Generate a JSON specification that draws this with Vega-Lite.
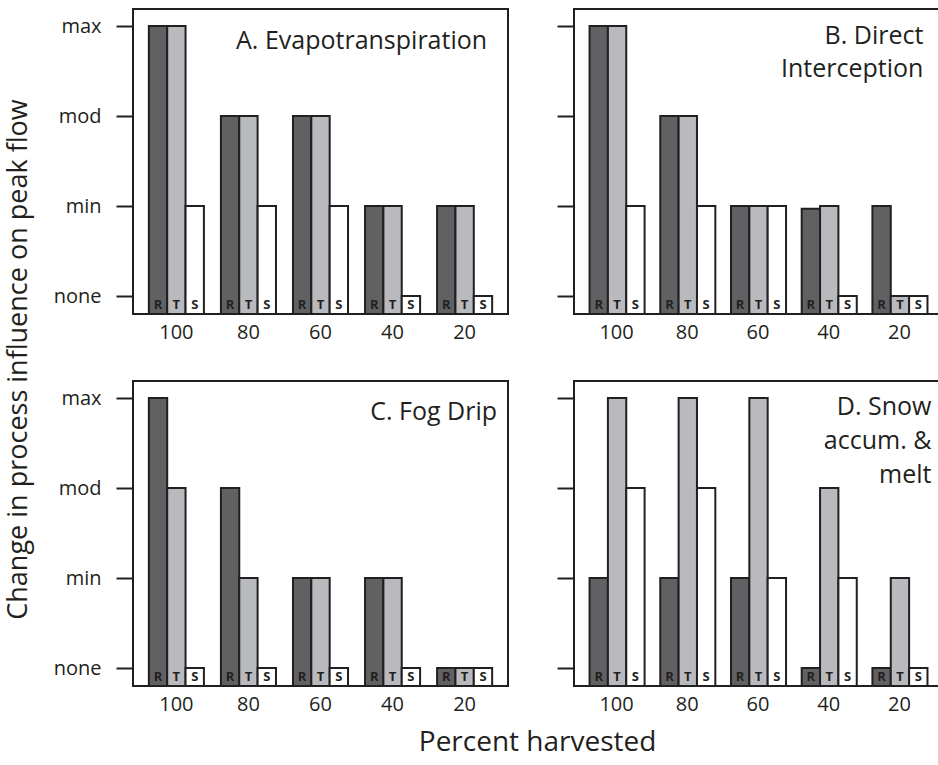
{
  "$schema": "https://vega.github.io/schema/vega-lite/v6.json",
  "padding": {"left": 5, "top": 8, "right": 0, "bottom": 0},
  "background": "white",
  "config": {
    "font": "Open Sans",
    "view": {"stroke": "#231f20", "strokeWidth": 2},
    "axis": {"labelColor": "#231f20", "labelFont": "Open Sans", "grid": false},
    "title": {"color": "#231f20", "fontWeight": "normal", "font": "Open Sans"}
  },
  "datasets": {
    "d": [
      {"panel": "A", "pct": 100, "series": "R", "level": 3},
      {"panel": "A", "pct": 100, "series": "T", "level": 3},
      {"panel": "A", "pct": 100, "series": "S", "level": 1},
      {"panel": "A", "pct": 80, "series": "R", "level": 2},
      {"panel": "A", "pct": 80, "series": "T", "level": 2},
      {"panel": "A", "pct": 80, "series": "S", "level": 1},
      {"panel": "A", "pct": 60, "series": "R", "level": 2},
      {"panel": "A", "pct": 60, "series": "T", "level": 2},
      {"panel": "A", "pct": 60, "series": "S", "level": 1},
      {"panel": "A", "pct": 40, "series": "R", "level": 1},
      {"panel": "A", "pct": 40, "series": "T", "level": 1},
      {"panel": "A", "pct": 40, "series": "S", "level": 0},
      {"panel": "A", "pct": 20, "series": "R", "level": 1},
      {"panel": "A", "pct": 20, "series": "T", "level": 1},
      {"panel": "A", "pct": 20, "series": "S", "level": 0},
      {"panel": "B", "pct": 100, "series": "R", "level": 3},
      {"panel": "B", "pct": 100, "series": "T", "level": 3},
      {"panel": "B", "pct": 100, "series": "S", "level": 1},
      {"panel": "B", "pct": 80, "series": "R", "level": 2},
      {"panel": "B", "pct": 80, "series": "T", "level": 2},
      {"panel": "B", "pct": 80, "series": "S", "level": 1},
      {"panel": "B", "pct": 60, "series": "R", "level": 1},
      {"panel": "B", "pct": 60, "series": "T", "level": 1},
      {"panel": "B", "pct": 60, "series": "S", "level": 1},
      {"panel": "B", "pct": 40, "series": "R", "level": 0.97},
      {"panel": "B", "pct": 40, "series": "T", "level": 1},
      {"panel": "B", "pct": 40, "series": "S", "level": 0},
      {"panel": "B", "pct": 20, "series": "R", "level": 1},
      {"panel": "B", "pct": 20, "series": "T", "level": 0},
      {"panel": "B", "pct": 20, "series": "S", "level": 0},
      {"panel": "C", "pct": 100, "series": "R", "level": 3},
      {"panel": "C", "pct": 100, "series": "T", "level": 2},
      {"panel": "C", "pct": 100, "series": "S", "level": 0},
      {"panel": "C", "pct": 80, "series": "R", "level": 2},
      {"panel": "C", "pct": 80, "series": "T", "level": 1},
      {"panel": "C", "pct": 80, "series": "S", "level": 0},
      {"panel": "C", "pct": 60, "series": "R", "level": 1},
      {"panel": "C", "pct": 60, "series": "T", "level": 1},
      {"panel": "C", "pct": 60, "series": "S", "level": 0},
      {"panel": "C", "pct": 40, "series": "R", "level": 1},
      {"panel": "C", "pct": 40, "series": "T", "level": 1},
      {"panel": "C", "pct": 40, "series": "S", "level": 0},
      {"panel": "C", "pct": 20, "series": "R", "level": 0},
      {"panel": "C", "pct": 20, "series": "T", "level": 0},
      {"panel": "C", "pct": 20, "series": "S", "level": 0},
      {"panel": "D", "pct": 100, "series": "R", "level": 1},
      {"panel": "D", "pct": 100, "series": "T", "level": 3},
      {"panel": "D", "pct": 100, "series": "S", "level": 2},
      {"panel": "D", "pct": 80, "series": "R", "level": 1},
      {"panel": "D", "pct": 80, "series": "T", "level": 3},
      {"panel": "D", "pct": 80, "series": "S", "level": 2},
      {"panel": "D", "pct": 60, "series": "R", "level": 1},
      {"panel": "D", "pct": 60, "series": "T", "level": 3},
      {"panel": "D", "pct": 60, "series": "S", "level": 1},
      {"panel": "D", "pct": 40, "series": "R", "level": 0},
      {"panel": "D", "pct": 40, "series": "T", "level": 2},
      {"panel": "D", "pct": 40, "series": "S", "level": 1},
      {"panel": "D", "pct": 20, "series": "R", "level": 0},
      {"panel": "D", "pct": 20, "series": "T", "level": 1},
      {"panel": "D", "pct": 20, "series": "S", "level": 0}
    ]
  },
  "title": {"text": "Change in process influence on peak flow", "orient": "left", "anchor": "middle", "fontSize": 27, "offset": 19, "dx": 23},
  "vconcat": [
    {
      "title": {"text": "Percent harvested", "orient": "bottom", "anchor": "middle", "fontSize": 28, "offset": 14, "dx": 40},
      "spacing": 37,
      "vconcat": [
        {
          "spacing": 46,
          "hconcat": [
            {
              "width": 375, "height": 305,
              "data": {"name": "d"},
              "transform": [{"filter": "datum.panel === 'A'"}],
              "encoding": {
                "x": {"field": "pct", "type": "ordinal", "sort": "descending", "scale": {"paddingInner": 0.236, "paddingOuter": 0.22}, "axis": {"title": null, "ticks": false, "domain": false, "labelAngle": 0, "labelFontSize": 20, "labelPadding": 8}},
                "xOffset": {"field": "series", "type": "nominal", "sort": ["R", "T", "S"], "scale": {"paddingInner": 0, "paddingOuter": 0}}
              },
              "layer": [
                {
                  "mark": {"type": "bar", "stroke": "#231f20", "strokeWidth": 2},
                  "encoding": {
                    "y": {"field": "level", "type": "quantitative", "scale": {"domain": [-0.2, 3.19], "nice": false, "zero": false}, "axis": {"title": null, "values": [0, 1, 2, 3], "labelExpr": "['none','min','mod','max'][datum.value]", "domain": false, "tickSize": 17, "tickWidth": 2, "tickColor": "#231f20", "labelFontSize": 20, "labelPadding": 15}},
                    "y2": {"datum": -0.2},
                    "fill": {"field": "series", "type": "nominal", "scale": {"domain": ["R", "T", "S"], "range": ["#616163", "#b9babd", "#ffffff"]}, "legend": null}
                  }
                },
                {
                  "mark": {"type": "text", "baseline": "bottom", "dy": -2, "fontSize": 13, "fontWeight": "bold", "color": "#231f20"},
                  "encoding": {"y": {"datum": -0.2, "type": "quantitative"}, "text": {"field": "series"}}
                },
                {
                  "transform": [{"filter": "datum.pct === 20 && datum.series === 'R'"}],
                  "mark": {"type": "text", "text": "A. Evapotranspiration", "align": "right", "baseline": "alphabetic", "dx": 50, "dy": 40, "fontSize": 25, "color": "#231f20"},
                  "encoding": {"x": {"datum": 20, "type": "ordinal"}, "xOffset": {"value": 0}, "y": {"datum": 3.19, "type": "quantitative"}}
                }
              ]
            },
            {
              "width": 368, "height": 305,
              "data": {"name": "d"},
              "transform": [{"filter": "datum.panel === 'B'"}],
              "encoding": {
                "x": {"field": "pct", "type": "ordinal", "sort": "descending", "scale": {"paddingInner": 0.236, "paddingOuter": 0.22}, "axis": {"title": null, "ticks": false, "domain": false, "labelAngle": 0, "labelFontSize": 20, "labelPadding": 8}},
                "xOffset": {"field": "series", "type": "nominal", "sort": ["R", "T", "S"], "scale": {"paddingInner": 0, "paddingOuter": 0}}
              },
              "layer": [
                {
                  "mark": {"type": "bar", "stroke": "#231f20", "strokeWidth": 2},
                  "encoding": {
                    "y": {"field": "level", "type": "quantitative", "scale": {"domain": [-0.2, 3.19], "nice": false, "zero": false}, "axis": {"title": null, "values": [0, 1, 2, 3], "labels": false, "domain": false, "tickSize": 17, "tickWidth": 2, "tickColor": "#231f20"}},
                    "y2": {"datum": -0.2},
                    "fill": {"field": "series", "type": "nominal", "scale": {"domain": ["R", "T", "S"], "range": ["#616163", "#b9babd", "#ffffff"]}, "legend": null}
                  }
                },
                {
                  "mark": {"type": "text", "baseline": "bottom", "dy": -2, "fontSize": 13, "fontWeight": "bold", "color": "#231f20"},
                  "encoding": {"y": {"datum": -0.2, "type": "quantitative"}, "text": {"field": "series"}}
                },
                {
                  "transform": [{"filter": "datum.pct === 20 && datum.series === 'R'"}],
                  "mark": {"type": "text", "text": ["B. Direct", "Interception"], "lineHeight": 33, "align": "right", "baseline": "alphabetic", "dx": 51, "dy": 35, "fontSize": 25, "color": "#231f20"},
                  "encoding": {"x": {"datum": 20, "type": "ordinal"}, "xOffset": {"value": 0}, "y": {"datum": 3.19, "type": "quantitative"}}
                }
              ]
            }
          ]
        },
        {
          "spacing": 46,
          "hconcat": [
            {
              "width": 375, "height": 305,
              "data": {"name": "d"},
              "transform": [{"filter": "datum.panel === 'C'"}],
              "encoding": {
                "x": {"field": "pct", "type": "ordinal", "sort": "descending", "scale": {"paddingInner": 0.236, "paddingOuter": 0.22}, "axis": {"title": null, "ticks": false, "domain": false, "labelAngle": 0, "labelFontSize": 20, "labelPadding": 8}},
                "xOffset": {"field": "series", "type": "nominal", "sort": ["R", "T", "S"], "scale": {"paddingInner": 0, "paddingOuter": 0}}
              },
              "layer": [
                {
                  "mark": {"type": "bar", "stroke": "#231f20", "strokeWidth": 2},
                  "encoding": {
                    "y": {"field": "level", "type": "quantitative", "scale": {"domain": [-0.2, 3.19], "nice": false, "zero": false}, "axis": {"title": null, "values": [0, 1, 2, 3], "labelExpr": "['none','min','mod','max'][datum.value]", "domain": false, "tickSize": 17, "tickWidth": 2, "tickColor": "#231f20", "labelFontSize": 20, "labelPadding": 15}},
                    "y2": {"datum": -0.2},
                    "fill": {"field": "series", "type": "nominal", "scale": {"domain": ["R", "T", "S"], "range": ["#616163", "#b9babd", "#ffffff"]}, "legend": null}
                  }
                },
                {
                  "mark": {"type": "text", "baseline": "bottom", "dy": -2, "fontSize": 13, "fontWeight": "bold", "color": "#231f20"},
                  "encoding": {"y": {"datum": -0.2, "type": "quantitative"}, "text": {"field": "series"}}
                },
                {
                  "transform": [{"filter": "datum.pct === 20 && datum.series === 'R'"}],
                  "mark": {"type": "text", "text": "C. Fog Drip", "align": "right", "baseline": "alphabetic", "dx": 60, "dy": 39, "fontSize": 25, "color": "#231f20"},
                  "encoding": {"x": {"datum": 20, "type": "ordinal"}, "xOffset": {"value": 0}, "y": {"datum": 3.19, "type": "quantitative"}}
                }
              ]
            },
            {
              "width": 368, "height": 305,
              "data": {"name": "d"},
              "transform": [{"filter": "datum.panel === 'D'"}],
              "encoding": {
                "x": {"field": "pct", "type": "ordinal", "sort": "descending", "scale": {"paddingInner": 0.236, "paddingOuter": 0.22}, "axis": {"title": null, "ticks": false, "domain": false, "labelAngle": 0, "labelFontSize": 20, "labelPadding": 8}},
                "xOffset": {"field": "series", "type": "nominal", "sort": ["R", "T", "S"], "scale": {"paddingInner": 0, "paddingOuter": 0}}
              },
              "layer": [
                {
                  "mark": {"type": "bar", "stroke": "#231f20", "strokeWidth": 2},
                  "encoding": {
                    "y": {"field": "level", "type": "quantitative", "scale": {"domain": [-0.2, 3.19], "nice": false, "zero": false}, "axis": {"title": null, "values": [0, 1, 2, 3], "labels": false, "domain": false, "tickSize": 17, "tickWidth": 2, "tickColor": "#231f20"}},
                    "y2": {"datum": -0.2},
                    "fill": {"field": "series", "type": "nominal", "scale": {"domain": ["R", "T", "S"], "range": ["#616163", "#b9babd", "#ffffff"]}, "legend": null}
                  }
                },
                {
                  "mark": {"type": "text", "baseline": "bottom", "dy": -2, "fontSize": 13, "fontWeight": "bold", "color": "#231f20"},
                  "encoding": {"y": {"datum": -0.2, "type": "quantitative"}, "text": {"field": "series"}}
                },
                {
                  "transform": [{"filter": "datum.pct === 20 && datum.series === 'R'"}],
                  "mark": {"type": "text", "text": ["D. Snow", "accum. &", "melt"], "lineHeight": 34, "align": "right", "baseline": "alphabetic", "dx": 59, "dy": 34, "fontSize": 25, "color": "#231f20"},
                  "encoding": {"x": {"datum": 20, "type": "ordinal"}, "xOffset": {"value": 0}, "y": {"datum": 3.19, "type": "quantitative"}}
                }
              ]
            }
          ]
        }
      ]
    }
  ]
}
